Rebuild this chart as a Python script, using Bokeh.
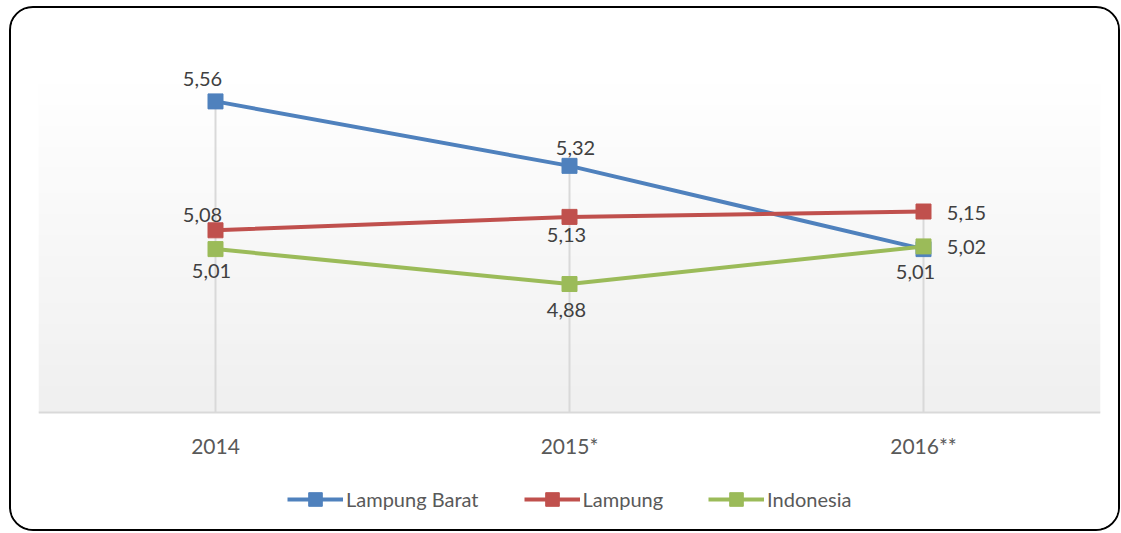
import numpy as np
from bokeh.plotting import figure
from bokeh.models import FactorRange, Range1d, Legend, LegendItem, ColumnDataSource
from bokeh.core.properties import value
from bokeh.embed import file_html
from bokeh.resources import INLINE

# ---- data ----
years = ["2014", "2015*", "2016**"]
lampung_barat = [5.56, 5.32, 5.01]
lampung = [5.08, 5.13, 5.15]
indonesia = [5.01, 4.88, 5.02]
series_names = ["Lampung Barat", "Lampung", "Indonesia"]

# ---- styles ----
colors = ["#4F81BD", "#C0504D", "#9BBB59"]
# label offsets (screen px) per series per point: (dx, dy)
label_offsets = [
    [(-13, -22), (6, -18), (-8, 23)],
    [(-13, -15), (-3, 18), (43, 1)],
    [(-4, 22), (-3, 26), (43, 1)],
]
FONT = "Lato"
Y0 = 4.4          # axis minimum
Y_AREA = 5.64     # top of shaded plot area
Y1 = 5.757        # top of drawing frame (room for labels)
Y_BOTTOM = 3.951  # bottom of drawing frame (room for tick labels and legend)

W, H = 1111, 525
MB_L, MB_T, FW = 27, 40, 1062
MB_R = W - MB_L - FW

p = figure(x_range=FactorRange(*years, range_padding=0), y_range=Range1d(Y_BOTTOM, Y1),
           width=W, height=H, output_backend="svg", toolbar_location=None,
           min_border_left=MB_L, min_border_right=MB_R, min_border_top=MB_T, min_border_bottom=0)
p.title = None
p.background_fill_color = "white"
p.border_fill_color = "white"
p.outline_line_color = None
p.xgrid.visible = False
p.ygrid.visible = False
p.yaxis.visible = False
p.xaxis.fixed_location = Y0
p.xaxis.axis_line_color = "#D9D9D9"
p.xaxis.axis_line_width = 2
p.xaxis.major_tick_line_color = None
p.xaxis.minor_tick_line_color = None
p.xaxis.major_label_text_font = FONT
p.xaxis.major_label_text_font_size = "21px"
p.xaxis.major_label_text_color = "#595959"
p.xaxis.major_label_standoff = 14
p.styles = {"border": "2px solid #000000", "border-radius": "24px", "overflow": "hidden",
            "margin-left": "9px", "margin-top": "6px"}

# gradient background of the plot area
n = 64
g = np.linspace(240, 255, n).astype(np.uint8)
img = np.zeros((n, 1, 4), dtype=np.uint8)
img[:, 0, 0] = g
img[:, 0, 1] = g
img[:, 0, 2] = g
img[:, 0, 3] = 255
p.image_rgba(image=[img.view(np.uint32).reshape(n, 1)], x=0, y=Y0, dw=3, dh=Y_AREA - Y0)

# drop lines from highest value to axis
tops = [max(a, b, c) for a, b, c in zip(lampung_barat, lampung, indonesia)]
p.segment(x0=years, y0=tops, x1=years, y1=[Y0] * len(years), line_color="#D9D9D9", line_width=2)

items = []
for name, vals, col, offs in zip(series_names, [lampung_barat, lampung, indonesia], colors, label_offsets):
    src = ColumnDataSource(dict(x=years, y=vals,
                                lab=[f"{v:.2f}".replace(".", ",") for v in vals],
                                dx=[o[0] for o in offs], dy=[o[1] for o in offs]))
    lr = p.line("x", "y", source=src, line_color=col, line_width=4)
    sr = p.scatter("x", "y", source=src, marker="square", size=15, fill_color=col, line_color=col)
    p.text("x", "y", text="lab", source=src, x_offset="dx", y_offset="dy",
           text_font=value(FONT), text_font_size="20px", text_color="#404040",
           text_align="center", text_baseline="middle")
    items.append(LegendItem(label=name, renderers=[lr, sr]))

legend = Legend(items=items, orientation="horizontal", location=(249, 17),
                glyph_width=56, glyph_height=34, label_standoff=3, spacing=45,
                label_text_font=FONT, label_text_font_size="20px", label_text_color="#595959",
                background_fill_alpha=0, border_line_color=None, padding=0, margin=0)
p.add_layout(legend, "center")

open("out.html", "w").write(file_html(p, INLINE))
